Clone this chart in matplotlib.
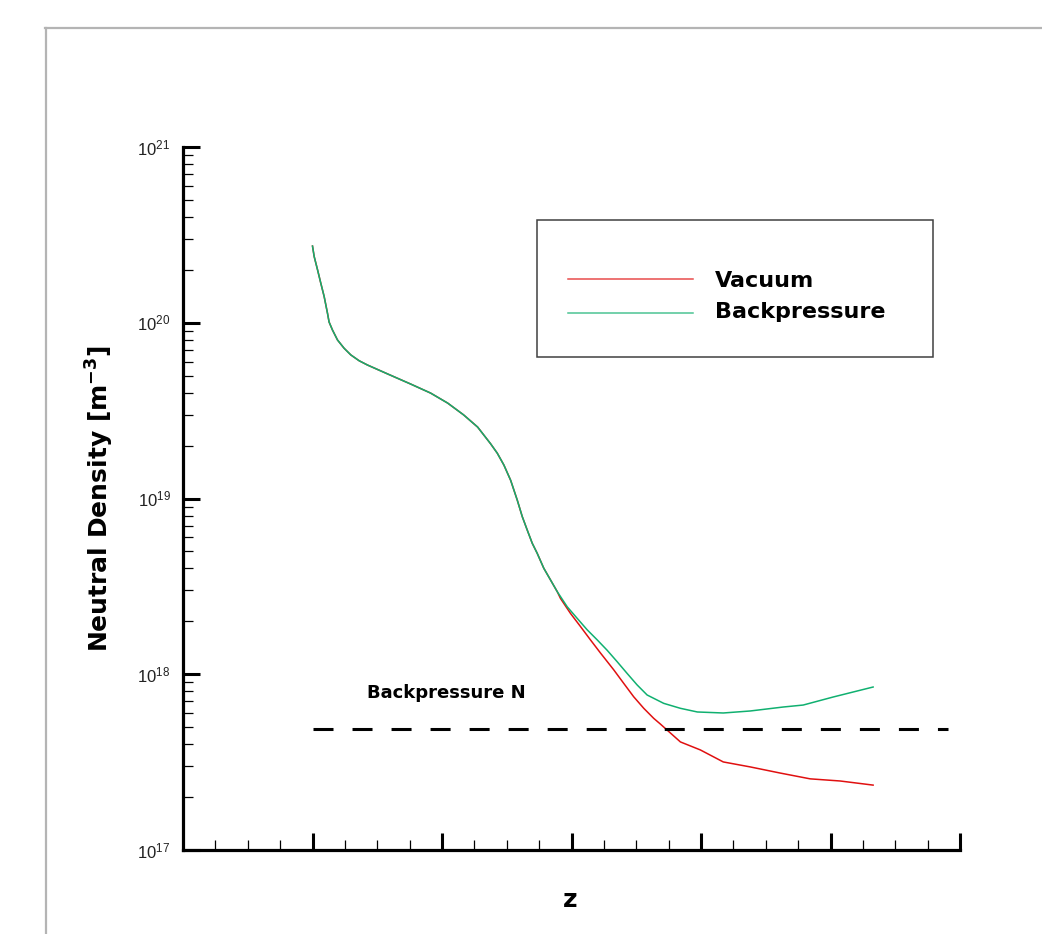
import math
import matplotlib
matplotlib.use("Agg")
import matplotlib.pyplot as plt
from matplotlib.lines import Line2D
from matplotlib.patches import Rectangle
from matplotlib.ticker import FixedLocator, LogLocator, NullFormatter, FuncFormatter

plt.rcParams["mathtext.fontset"] = "custom"
plt.rcParams["mathtext.rm"] = "Liberation Sans"
plt.rcParams["mathtext.it"] = "Liberation Sans"
plt.rcParams["mathtext.bf"] = "Liberation Sans:bold"
plt.rcParams["lines.scale_dashes"] = False

# Upstream part shared by both cases (axial position, density in m^-3)
z_shared = [1.00, 1.013, 1.039, 1.064, 1.090, 1.116, 1.128, 1.154, 1.193,
            1.244, 1.296, 1.360, 1.424, 1.581, 1.758, 1.912, 2.044, 2.167,
            2.275, 2.375, 2.427, 2.478, 2.530, 2.581, 2.620, 2.658,
            2.697, 2.735, 2.786, 2.838, 2.890]
n_shared = [2.73e20, 2.38e20, 2.00e20, 1.68e20, 1.41e20, 1.13e20, 1.01e20,
            9.10e19, 7.98e19, 7.16e19, 6.56e19, 6.08e19, 5.75e19, 5.11e19,
            4.48e19, 3.98e19, 3.49e19, 2.99e19, 2.55e19, 2.05e19,
            1.81e19, 1.55e19, 1.27e19, 9.8e18, 7.88e18, 6.62e18, 5.56e18,
            4.88e18, 4.01e18, 3.44e18, 2.95e18]

# Downstream part, vacuum case
z_vacuum_tail = [2.915, 2.992, 3.069, 3.146, 3.224, 3.326, 3.403, 3.480,
                 3.558, 3.635, 3.686, 3.841, 3.995, 4.172, 4.380, 4.612,
                 4.843, 5.074, 5.329]
n_vacuum_tail = [2.70e18, 2.22e18, 1.87e18, 1.57e18, 1.32e18, 1.06e18,
                 8.88e17, 7.45e17, 6.40e17, 5.61e17, 5.21e17, 4.12e17,
                 3.71e17, 3.17e17, 2.97e17, 2.74e17, 2.54e17, 2.47e17,
                 2.34e17]

# Downstream part, backpressure case
z_back_tail = [2.967, 3.044, 3.121, 3.198, 3.275, 3.352, 3.430, 3.507,
               3.584, 3.712, 3.841, 3.972, 4.172, 4.380, 4.635, 4.789,
               5.020, 5.329]
n_back_tail = [2.42e18, 2.08e18, 1.79e18, 1.57e18, 1.37e18, 1.18e18,
               1.01e18, 8.69e17, 7.62e17, 6.83e17, 6.40e17, 6.10e17,
               6.02e17, 6.18e17, 6.51e17, 6.68e17, 7.42e17, 8.46e17]

backpressure_n = 4.88e17
backpressure_z = [1.0, 5.91]

series_labels = ["Vacuum", "Backpressure"]
series_colors = ["#e01010", "#10b070"]

z_vacuum = z_shared + z_vacuum_tail
n_vacuum = n_shared + n_vacuum_tail
z_back = z_shared + z_back_tail
n_back = n_shared + n_back_tail

fig = plt.figure(figsize=(10.42, 9.34), dpi=100)
ax = fig.add_axes([183 / 1042, 84 / 934, 777 / 1042, 703 / 934])

# outer frame lines (top and left)
fig.add_artist(Line2D([45 / 1042, 1.0], [1 - 28 / 934, 1 - 28 / 934],
                      transform=fig.transFigure, color="#b4b4b4", lw=1.6))
fig.add_artist(Line2D([46 / 1042, 46 / 1042], [0.0, 1 - 28 / 934],
                      transform=fig.transFigure, color="#b4b4b4", lw=1.6))

ax.set_yscale("log")
ax.set_xlim(0, 6)
ax.set_ylim(1e17, 1e21)

ax.plot(z_vacuum, n_vacuum, color=series_colors[0], lw=1.1)
ax.plot(z_back, n_back, color=series_colors[1], lw=1.1)
ax.plot(backpressure_z, [backpressure_n, backpressure_n], color="black",
        lw=2.2, dashes=(14.4, 13.7))
ax.text(1.42, 7.33e17, "Backpressure N", fontsize=13, fontweight="bold",
        family="DejaVu Sans", ha="left", va="baseline")

for s in ["top", "right"]:
    ax.spines[s].set_visible(False)
for s in ["left", "bottom"]:
    ax.spines[s].set_linewidth(2.3)

ax.xaxis.set_major_locator(FixedLocator([1, 2, 3, 4, 5, 6]))
ax.xaxis.set_minor_locator(FixedLocator([i * 0.25 for i in range(1, 24) if i % 4 != 0]))
ax.xaxis.set_major_formatter(NullFormatter())
ax.yaxis.set_major_locator(LogLocator(base=10, numticks=10))
ax.yaxis.set_minor_locator(LogLocator(base=10, subs=range(2, 10), numticks=20))
ax.yaxis.set_minor_formatter(NullFormatter())
ax.yaxis.set_major_formatter(FuncFormatter(lambda v, p: r"$10^{%d}$" % round(math.log10(v))))

ax.tick_params(axis="both", which="major", direction="in", length=12.5, width=2.2)
ax.tick_params(axis="both", which="minor", direction="in", length=7, width=0.9)
ax.tick_params(axis="y", which="major", pad=9, labelsize=12, labelcolor="#222222")

ax.set_ylabel(r"Neutral Density [m$^{\mathregular{-3}}$]", fontsize=18,
              fontweight="bold", family="DejaVu Sans", va="center")
ax.yaxis.set_label_coords(-0.107, 0.5)
ax.set_xlabel("z", fontsize=18, fontweight="bold", family="DejaVu Sans", va="center")
ax.xaxis.set_label_coords(0.498, -0.071)

# legend box
ax.add_patch(Rectangle((0.4556, 0.7013), 0.5097, 0.1947, transform=ax.transAxes,
                       fill=False, edgecolor="#404040", lw=1.1, clip_on=False))
leg_y = [0.8122, 0.7639]
txt_y = [0.8009, 0.7568]
for lab, col, ly, ty in zip(series_labels, series_colors, leg_y, txt_y):
    ax.add_line(Line2D([0.4955, 0.6564], [ly, ly], transform=ax.transAxes,
                       color=col, lw=1.1, alpha=0.75))
    ax.text(0.6847, ty, lab, transform=ax.transAxes, fontsize=16,
            fontweight="bold", family="DejaVu Sans", ha="left", va="baseline")

fig.savefig("out.png", dpi=100)
